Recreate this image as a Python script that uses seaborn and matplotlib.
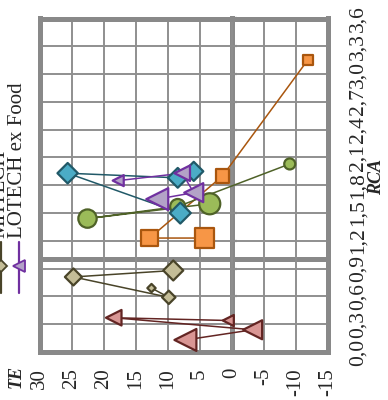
import numpy as np
import pandas as pd
import matplotlib
matplotlib.use("Agg")
import matplotlib.pyplot as plt
import seaborn as sns
from matplotlib.lines import Line2D

# Trade balance (TE, %) against revealed comparative advantage (RCA), four periods per sector
period = [1, 2, 3, 4]

hitech_te = [-11.9, 1.4, 12.8, 4.2]
hitech_rca = [3.15, 1.90, 1.23, 1.23]

mltech_te = [-9.1, 8.4, 22.5, 3.4]
mltech_rca = [2.03, 1.57, 1.44, 1.60]

lotech_te = [5.9, 8.4, 25.6, 8.0]
lotech_rca = [1.95, 1.88, 1.93, 1.50]

food_te = [0.5, 18.4, -3.3, 7.2]
food_rca = [0.34, 0.37, 0.24, 0.13]

mhtech_te = [12.5, 9.8, 24.7, 9.1]
mhtech_rca = [0.69, 0.59, 0.81, 0.88]

lotech_exfood_te = [17.7, 7.7, 5.9, 11.6]
lotech_exfood_rca = [1.85, 1.93, 1.72, 1.65]

te_ticks = [30, 25, 20, 15, 10, 5, 0, -5, -10, -15]
te_tick_labels = ["30", "25", "20", "15", "10", "5", "0", "-5", "-10", "-15"]
rca_ticks = [0.0, 0.3, 0.6, 0.9, 1.2, 1.5, 1.8, 2.1, 2.4, 2.7, 3.0, 3.3, 3.6]
rca_tick_labels = ["0,0", "0,3", "0,6", "0,9", "1,2", "1,5", "1,8",
                   "2,1", "2,4", "2,7", "3,0", "3,3", "3,6"]

series_names = ["HITECH", "MLTECH", "LOTECH", "Food", "MHTECH", "LOTECH ex Food"]
series_te = [hitech_te, mltech_te, lotech_te, food_te, mhtech_te, lotech_exfood_te]
series_rca = [hitech_rca, mltech_rca, lotech_rca, food_rca, mhtech_rca, lotech_exfood_rca]

# marker, fill, edge/line colour, marker area range (pt^2)
styles = {
    "HITECH": ("s", "#F79646", "#A9560E", (52, 190)),
    "MLTECH": ("o", "#9BBB59", "#4F6228", (63, 230)),
    "LOTECH": ("D", "#4BACC6", "#215968", (95, 115)),
    "Food": ("<", "#D99694", "#632523", (63, 250)),
    "MHTECH": ("D", "#C4BD97", "#494429", (18, 104)),
    "LOTECH ex Food": ("<", "#B3A2C7", "#7030A0", (63, 250)),
}

sns.set_style("white")
plt.rcParams["font.family"] = ["Liberation Serif", "DejaVu Serif"]

FRAME = "#898989"
GRID = "#8f8f8f"
W, H = 388, 400

fig = plt.figure(figsize=(W / 100, H / 100), dpi=100)
fig.patch.set_facecolor("white")
pos = [39.5 / W, 1 - 352 / H, 288 / W, 333.5 / H]

# underlying axes: the TE = 0 and RCA = 1 axis lines with their tick marks
ax0 = fig.add_axes(pos, zorder=0)
ax0.set_xlim(30, -15)
ax0.set_ylim(0, 3.6)
for name, sp in ax0.spines.items():
    sp.set_visible(name in ("right", "bottom"))
    sp.set_color(FRAME)
    sp.set_linewidth(3.6)
ax0.spines["right"].set_position(("data", 0))
ax0.spines["bottom"].set_position(("data", 1.0))
ax0.set_yticks(rca_ticks)
ax0.yaxis.tick_right()
ax0.tick_params(axis="y", direction="out", length=3.5, width=1.6, color=FRAME,
                labelright=False, labelleft=False)
ax0.set_xticks(te_ticks)
ax0.tick_params(axis="x", bottom=False, labelbottom=False)
ax0.patch.set_visible(False)

# main axes
ax = fig.add_axes(pos, zorder=1)
ax.patch.set_visible(False)
ax.set_xlim(30, -15)
ax.set_ylim(0, 3.6)
ax.grid(True, color=GRID, lw=1.4)
ax.set_axisbelow(True)
for sp in ax.spines.values():
    sp.set_color(FRAME)
    sp.set_linewidth(3.6)

for name, te, rca in zip(series_names, series_te, series_rca):
    marker, fill, edge, sizes = styles[name]
    df = pd.DataFrame({"TE": te, "RCA": rca, "period": period})
    sns.lineplot(data=df, x="TE", y="RCA", sort=False, estimator=None,
                 color=edge, lw=1.1, ax=ax, legend=False, zorder=2)
    sns.scatterplot(data=df, x="TE", y="RCA", size="period", sizes=sizes,
                    marker=marker, color=fill, edgecolor=edge, linewidth=1.6,
                    ax=ax, legend=False, zorder=3)

ax.set_xticks(te_ticks, te_tick_labels, rotation=90, fontsize=15)
ax.tick_params(axis="x", direction="out", length=3.6, width=1.6, color=FRAME, pad=8)
ax.set_yticks(rca_ticks, rca_tick_labels, rotation=90, fontsize=15.5)
ax.yaxis.tick_right()
ax.tick_params(axis="y", length=0, pad=15)
for lab in ax.get_yticklabels():
    lab.set_verticalalignment("center")

ax.set_xlabel("TE", fontsize=13, fontweight="bold", style="italic", rotation=90,
              ha="center", va="center", rotation_mode="anchor")
ax.xaxis.set_label_coords((16 - 39.5) / 288, (352 - 377) / 333.5)
ax.yaxis.set_label_position("right")
ax.set_ylabel("RCA", fontsize=13, fontweight="bold", style="italic", rotation=90,
              ha="center", va="center", rotation_mode="anchor")
ax.yaxis.set_label_coords((377 - 39.5) / 288, (352 - 177) / 333.5)


def fx(px):
    return px / W


def fy(py):
    return 1 - py / H


# legend keys (only the last entries fit inside the figure)
legend_cols = {"MHTECH": 0.5, "LOTECH ex Food": 19}
for name, x in legend_cols.items():
    marker, fill, edge, _ = styles[name]
    fig.add_artist(Line2D([fx(x), fx(x)], [fy(242), fy(293)], color=edge, lw=1.6))
    fig.add_artist(Line2D([fx(x)], [fy(266)], marker=marker, markersize=8.5 if marker == "<" else 6,
                          markerfacecolor=fill, markeredgecolor=edge, markeredgewidth=1.3, ls="none"))
    fig.text(fx(x - 1), fy(238), name, rotation=90, ha="center", va="bottom", fontsize=15)

fig.savefig("out.png", dpi=100, facecolor="white")
